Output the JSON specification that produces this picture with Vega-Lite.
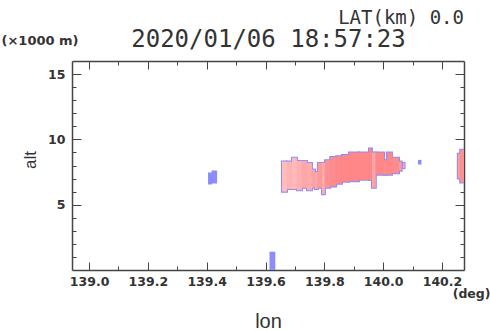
{
  "$schema": "https://vega.github.io/schema/vega-lite/v6.json",
  "autosize": {"type": "none"},
  "padding": {"left": 72, "top": 61, "right": 26, "bottom": 61},
  "width": 392,
  "height": 209,
  "background": "white",
  "config": {
    "view": {"stroke": null},
    "axis": {"grid": false, "domainColor": "#444", "domainWidth": 1.5, "tickColor": "#444", "tickWidth": 1, "labelColor": "#333", "titleColor": "#333"}
  },
  "title": {"text": "LAT(km) 0.0", "anchor": "end", "frame": "group", "font": "DejaVu Sans Mono", "fontSize": 19, "fontWeight": "normal", "color": "#333", "offset": -1},
  "data": {"values": [
    {"lon0": 139.656, "lon1": 139.673, "alt0": 6.0, "alt1": 8.3, "dbz": 22},
    {"lon0": 139.673, "lon1": 139.690, "alt0": 6.2, "alt1": 8.3, "dbz": 24},
    {"lon0": 139.690, "lon1": 139.707, "alt0": 6.2, "alt1": 8.6, "dbz": 23},
    {"lon0": 139.707, "lon1": 139.724, "alt0": 6.1, "alt1": 8.35, "dbz": 25},
    {"lon0": 139.724, "lon1": 139.741, "alt0": 6.3, "alt1": 8.35, "dbz": 27},
    {"lon0": 139.741, "lon1": 139.758, "alt0": 6.1, "alt1": 8.2, "dbz": 26},
    {"lon0": 139.758, "lon1": 139.768, "alt0": 6.3, "alt1": 7.7, "dbz": 28},
    {"lon0": 139.768, "lon1": 139.778, "alt0": 6.2, "alt1": 7.5, "dbz": 27},
    {"lon0": 139.778, "lon1": 139.792, "alt0": 6.3, "alt1": 8.2, "dbz": 30},
    {"lon0": 139.792, "lon1": 139.802, "alt0": 5.8, "alt1": 8.2, "dbz": 26},
    {"lon0": 139.802, "lon1": 139.820, "alt0": 6.3, "alt1": 8.4, "dbz": 32},
    {"lon0": 139.820, "lon1": 139.840, "alt0": 6.4, "alt1": 8.65, "dbz": 33},
    {"lon0": 139.840, "lon1": 139.860, "alt0": 6.6, "alt1": 8.7, "dbz": 34},
    {"lon0": 139.860, "lon1": 139.884, "alt0": 6.75, "alt1": 8.8, "dbz": 34},
    {"lon0": 139.884, "lon1": 139.918, "alt0": 6.8, "alt1": 9.0, "dbz": 34},
    {"lon0": 139.918, "lon1": 139.952, "alt0": 6.9, "alt1": 9.0, "dbz": 34},
    {"lon0": 139.952, "lon1": 139.962, "alt0": 6.9, "alt1": 9.3, "dbz": 34},
    {"lon0": 139.962, "lon1": 139.975, "alt0": 6.3, "alt1": 9.0, "dbz": 28},
    {"lon0": 139.975, "lon1": 140.003, "alt0": 7.3, "alt1": 9.0, "dbz": 34},
    {"lon0": 140.003, "lon1": 140.013, "alt0": 7.3, "alt1": 8.4, "dbz": 33},
    {"lon0": 140.013, "lon1": 140.030, "alt0": 7.3, "alt1": 9.0, "dbz": 34},
    {"lon0": 140.030, "lon1": 140.054, "alt0": 7.4, "alt1": 8.6, "dbz": 33},
    {"lon0": 140.054, "lon1": 140.063, "alt0": 7.6, "alt1": 8.3, "dbz": 30},
    {"lon0": 140.068, "lon1": 140.073, "alt0": 7.8, "alt1": 8.2, "dbz": 25},
    {"lon0": 140.122, "lon1": 140.127, "alt0": 8.15, "alt1": 8.35, "dbz": 12},
    {"lon0": 140.254, "lon1": 140.262, "alt0": 7.0, "alt1": 8.9, "dbz": 30},
    {"lon0": 140.262, "lon1": 140.290, "alt0": 6.7, "alt1": 9.2, "dbz": 32},
    {"lon0": 139.408, "lon1": 139.415, "alt0": 6.62, "alt1": 7.39, "dbz": 12},
    {"lon0": 139.420, "lon1": 139.432, "alt0": 6.70, "alt1": 7.54, "dbz": 12},
    {"lon0": 139.617, "lon1": 139.630, "alt0": 0.0, "alt1": 1.32, "dbz": 8}
  ]},
  "resolve": {"axis": {"x": "independent", "y": "independent"}},
  "layer": [
    {
      "mark": {"type": "rect", "clip": true, "fill": "#8C8CFF", "stroke": "#8C8CFF", "strokeWidth": 2},
      "encoding": {
        "x": {"field": "lon0", "type": "quantitative",
          "scale": {"domain": [138.942, 140.275], "nice": false, "zero": false},
          "axis": {"orient": "bottom", "values": [139.0, 139.1, 139.2, 139.3, 139.4, 139.5, 139.6, 139.7, 139.8, 139.9, 140.0, 140.1, 140.2],
            "labelExpr": "round(datum.value*10)%2==0 ? format(datum.value, '.1f') : ''",
            "tickSize": {"condition": {"test": "round(datum.value*10)%2==0", "value": -8}, "value": -4},
            "labelFont": "DejaVu Sans", "labelFontWeight": "bold", "labelFontSize": 12.5, "labelPadding": 13, "labelFlush": false,
            "title": "lon", "titleFont": "Liberation Sans", "titleFontSize": 20, "titleFontWeight": "normal",
            "titleY": 57, "titleBaseline": "alphabetic"}},
        "x2": {"field": "lon1"},
        "y": {"field": "alt0", "type": "quantitative",
          "scale": {"domain": [0, 16], "nice": false, "zero": false},
          "axis": {"orient": "left", "values": [1, 2, 3, 4, 5, 6, 7, 8, 9, 10, 11, 12, 13, 14, 15],
            "labelExpr": "datum.value%5==0 ? datum.value : ''",
            "tickSize": {"condition": {"test": "datum.value%5==0", "value": -9}, "value": -4},
            "labelFont": "DejaVu Sans", "labelFontWeight": "bold", "labelFontSize": 12.5, "labelPadding": 16, "labelFlush": false,
            "title": "alt", "titleFont": "Liberation Sans", "titleFontSize": 17, "titleFontWeight": "normal",
            "titleAngle": -90, "titleX": -37, "titleY": 98.5, "titleAlign": "center", "titleBaseline": "alphabetic"}},
        "y2": {"field": "alt1"}
      }
    },
    {
      "transform": [{"filter": "datum.dbz >= 20"}],
      "mark": {"type": "rect", "clip": true, "strokeWidth": 0},
      "encoding": {
        "x": {"field": "lon0", "type": "quantitative",
          "axis": {"orient": "top", "values": [139.0, 139.1, 139.2, 139.3, 139.4, 139.5, 139.6, 139.7, 139.8, 139.9, 140.0, 140.1, 140.2],
            "labels": false,
            "tickSize": {"condition": {"test": "round(datum.value*10)%2==0", "value": -8}, "value": -4},
            "title": "2020/01/06 18:57:23", "titleFont": "DejaVu Sans Mono", "titleFontSize": 24, "titleFontWeight": "normal",
            "titleY": -15, "titleBaseline": "alphabetic"}},
        "x2": {"field": "lon1"},
        "y": {"field": "alt0", "type": "quantitative",
          "axis": {"orient": "right", "values": [1, 2, 3, 4, 5, 6, 7, 8, 9, 10, 11, 12, 13, 14, 15],
            "labels": false,
            "tickSize": {"condition": {"test": "datum.value%5==0", "value": -9}, "value": -4},
            "title": "(×1000 m)", "titleFont": "DejaVu Sans", "titleFontSize": 13, "titleFontWeight": "bold",
            "titleAngle": 0, "titleX": -463, "titleY": -17, "titleAlign": "left", "titleBaseline": "alphabetic"}},
        "y2": {"field": "alt1"},
        "color": {"field": "dbz", "type": "quantitative", "legend": null,
          "scale": {"domain": [20, 34], "range": ["#FFC6C6", "#FF8787"]}}
      }
    },
    {
      "transform": [{"filter": "datum.dbz < 20"}],
      "mark": {"type": "rect", "clip": true, "fill": "#8C8CFF", "strokeWidth": 0},
      "encoding": {
        "x": {"field": "lon0", "type": "quantitative",
          "axis": {"orient": "bottom", "labels": false, "ticks": false, "domain": false,
            "title": "(deg)", "titleFont": "DejaVu Sans", "titleFontSize": 12.5, "titleFontWeight": "bold",
            "titleX": 418, "titleY": 27, "titleAlign": "right", "titleBaseline": "alphabetic"}},
        "x2": {"field": "lon1"},
        "y": {"field": "alt0", "type": "quantitative", "axis": null},
        "y2": {"field": "alt1"}
      }
    }
  ]
}
